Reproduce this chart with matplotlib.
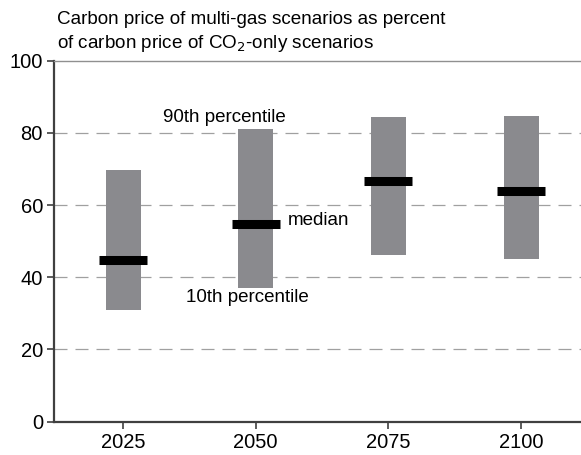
import matplotlib
matplotlib.use("Agg")
import matplotlib.pyplot as plt

# Data
years = [2025, 2050, 2075, 2100]
p10 = [30.9, 37.0, 46.1, 45.1]
p90 = [69.7, 81.0, 84.4, 84.6]
median = [44.9, 54.8, 66.6, 63.8]
ytick_vals = [0, 20, 40, 60, 80, 100]
grid_vals = [20, 40, 60, 80]

plt.rcParams['font.family'] = ['Liberation Sans', 'DejaVu Sans']

fig = plt.figure(figsize=(5.81, 4.55), dpi=100)
ax = fig.add_axes([0.093, 0.0732, 0.907, 0.7934])

for g in grid_vals:
    ax.axhline(g, color='#a0a0a0', lw=0.9, linestyle=(0, (10.4, 6.4)), zorder=1)

heights = [h - l for h, l in zip(p90, p10)]
ax.bar(years, heights, bottom=p10, width=6.6, color='#8a8a8e', zorder=2)
ax.hlines(median, [y - 4.5 for y in years], [y + 4.5 for y in years],
          colors='black', lw=6.5, capstyle='butt', zorder=3)

ax.set_xlim(2012.0, 2111.3)
ax.set_ylim(0, 100)
ax.set_xticks(years)
ax.set_yticks(ytick_vals)
ax.tick_params(axis='both', labelsize=14.5, length=5, width=1.2, color='#404040', pad=3)

for s in ['left', 'bottom']:
    ax.spines[s].set_color('#404040')
    ax.spines[s].set_linewidth(1.6)
ax.spines['right'].set_visible(False)
ax.spines['top'].set_color('#909090')
ax.spines['top'].set_linewidth(1.0)

ax.text(2032.5, 84.4, '90th percentile', fontsize=13.5, va='center', ha='left')
ax.text(2056.0, 55.6, 'median', fontsize=13.5, va='center', ha='left')
ax.text(2036.8, 34.5, '10th percentile', fontsize=13.5, va='center', ha='left')

fig.text(57 / 581, 1 - 19 / 455, 'Carbon price of multi-gas scenarios as percent',
         fontsize=13.6, ha='left', va='center')
fig.text(57 / 581, 1 - 44 / 455, 'of carbon price of CO$_2$-only scenarios',
         fontsize=13.6, ha='left', va='center')

fig.savefig('out.png', dpi=100)
